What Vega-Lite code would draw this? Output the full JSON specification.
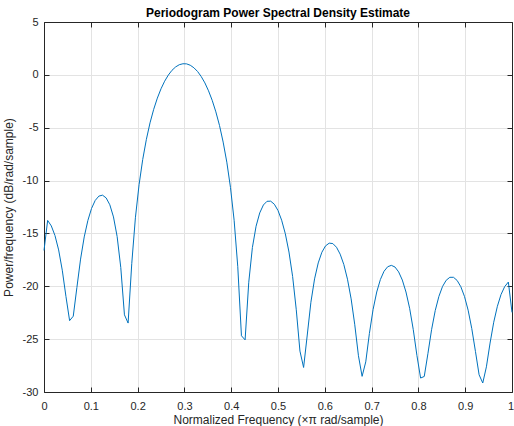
{
  "$schema": "https://vega.github.io/schema/vega-lite/v6.json",
  "width": 468,
  "height": 370,
  "autosize": {"type": "none"},
  "padding": {"left": 44, "top": 22, "right": 2, "bottom": 34},
  "background": "white",
  "title": {
    "text": "Periodogram Power Spectral Density Estimate",
    "font": "Liberation Sans",
    "fontSize": 12,
    "fontWeight": "bold",
    "color": "#000000",
    "anchor": "middle",
    "frame": "group",
    "offset": 4,
    "dy": 8
  },
  "config": {
    "view": {"stroke": null},
    "axis": {
      "domainColor": "#262626",
      "domainWidth": 1,
      "tickColor": "#262626",
      "tickWidth": 1,
      "tickSize": -5,
      "labelColor": "#262626",
      "titleColor": "#262626",
      "labelFont": "Liberation Sans",
      "titleFont": "Liberation Sans",
      "labelFontSize": 11,
      "titleFontSize": 12,
      "titleFontWeight": "normal",
      "gridColor": "#e3e3e3",
      "gridWidth": 1
    }
  },
  "data": {
    "values": [
      {"f": 0.0000000, "p": -16.61}, {"f": 0.0078125, "p": -13.77}, {"f": 0.0156250, "p": -14.29}, {"f": 0.0234375, "p": -15.20},
      {"f": 0.0312500, "p": -16.56}, {"f": 0.0390625, "p": -18.48}, {"f": 0.0468750, "p": -20.96}, {"f": 0.0546875, "p": -23.25},
      {"f": 0.0625000, "p": -22.83}, {"f": 0.0703125, "p": -20.11}, {"f": 0.0781250, "p": -17.43}, {"f": 0.0859375, "p": -15.33},
      {"f": 0.0937500, "p": -13.77}, {"f": 0.1015625, "p": -12.64}, {"f": 0.1093750, "p": -11.88}, {"f": 0.1171875, "p": -11.47},
      {"f": 0.1250000, "p": -11.38}, {"f": 0.1328125, "p": -11.64}, {"f": 0.1406250, "p": -12.29}, {"f": 0.1484375, "p": -13.44},
      {"f": 0.1562500, "p": -15.29}, {"f": 0.1640625, "p": -18.22}, {"f": 0.1718750, "p": -22.70}, {"f": 0.1796875, "p": -23.48},
      {"f": 0.1875000, "p": -17.86}, {"f": 0.1953125, "p": -13.52}, {"f": 0.2031250, "p": -10.39}, {"f": 0.2109375, "p": -8.00},
      {"f": 0.2187500, "p": -6.10}, {"f": 0.2265625, "p": -4.54}, {"f": 0.2343750, "p": -3.26}, {"f": 0.2421875, "p": -2.20},
      {"f": 0.2500000, "p": -1.32}, {"f": 0.2578125, "p": -0.60}, {"f": 0.2656250, "p": -0.02}, {"f": 0.2734375, "p": 0.43},
      {"f": 0.2812500, "p": 0.75}, {"f": 0.2890625, "p": 0.96}, {"f": 0.2968750, "p": 1.05}, {"f": 0.3046875, "p": 1.04},
      {"f": 0.3125000, "p": 0.91}, {"f": 0.3203125, "p": 0.67}, {"f": 0.3281250, "p": 0.32}, {"f": 0.3359375, "p": -0.16},
      {"f": 0.3437500, "p": -0.76}, {"f": 0.3515625, "p": -1.51}, {"f": 0.3593750, "p": -2.41}, {"f": 0.3671875, "p": -3.50},
      {"f": 0.3750000, "p": -4.79}, {"f": 0.3828125, "p": -6.36}, {"f": 0.3906250, "p": -8.26}, {"f": 0.3984375, "p": -10.65},
      {"f": 0.4062500, "p": -13.76}, {"f": 0.4140625, "p": -18.15}, {"f": 0.4218750, "p": -24.68}, {"f": 0.4296875, "p": -25.07},
      {"f": 0.4375000, "p": -19.62}, {"f": 0.4453125, "p": -16.33}, {"f": 0.4531250, "p": -14.32}, {"f": 0.4609375, "p": -13.06},
      {"f": 0.4687500, "p": -12.31}, {"f": 0.4765625, "p": -11.96}, {"f": 0.4843750, "p": -11.95}, {"f": 0.4921875, "p": -12.24},
      {"f": 0.5000000, "p": -12.83}, {"f": 0.5078125, "p": -13.75}, {"f": 0.5156250, "p": -15.03}, {"f": 0.5234375, "p": -16.76},
      {"f": 0.5312500, "p": -19.08}, {"f": 0.5390625, "p": -22.22}, {"f": 0.5468750, "p": -26.13}, {"f": 0.5546875, "p": -27.68},
      {"f": 0.5625000, "p": -24.61}, {"f": 0.5703125, "p": -21.51}, {"f": 0.5781250, "p": -19.30}, {"f": 0.5859375, "p": -17.79},
      {"f": 0.5937500, "p": -16.78}, {"f": 0.6015625, "p": -16.18}, {"f": 0.6093750, "p": -15.92}, {"f": 0.6171875, "p": -15.96},
      {"f": 0.6250000, "p": -16.31}, {"f": 0.6328125, "p": -16.96}, {"f": 0.6406250, "p": -17.94}, {"f": 0.6484375, "p": -19.33},
      {"f": 0.6562500, "p": -21.19}, {"f": 0.6640625, "p": -23.64}, {"f": 0.6718750, "p": -26.57}, {"f": 0.6796875, "p": -28.52},
      {"f": 0.6875000, "p": -27.15}, {"f": 0.6953125, "p": -24.46}, {"f": 0.7031250, "p": -22.20}, {"f": 0.7109375, "p": -20.54},
      {"f": 0.7187500, "p": -19.36}, {"f": 0.7265625, "p": -18.58}, {"f": 0.7343750, "p": -18.15}, {"f": 0.7421875, "p": -18.02},
      {"f": 0.7500000, "p": -18.18}, {"f": 0.7578125, "p": -18.64}, {"f": 0.7656250, "p": -19.41}, {"f": 0.7734375, "p": -20.54},
      {"f": 0.7812500, "p": -22.08}, {"f": 0.7890625, "p": -24.10}, {"f": 0.7968750, "p": -26.56}, {"f": 0.8046875, "p": -28.68},
      {"f": 0.8125000, "p": -28.53}, {"f": 0.8203125, "p": -26.38}, {"f": 0.8281250, "p": -24.11}, {"f": 0.8359375, "p": -22.30},
      {"f": 0.8437500, "p": -20.96}, {"f": 0.8515625, "p": -20.02}, {"f": 0.8593750, "p": -19.43}, {"f": 0.8671875, "p": -19.15},
      {"f": 0.8750000, "p": -19.15}, {"f": 0.8828125, "p": -19.45}, {"f": 0.8906250, "p": -20.04}, {"f": 0.8984375, "p": -20.96},
      {"f": 0.9062500, "p": -22.26}, {"f": 0.9140625, "p": -24.00}, {"f": 0.9218750, "p": -26.16}, {"f": 0.9296875, "p": -28.37},
      {"f": 0.9375000, "p": -29.15}, {"f": 0.9453125, "p": -27.62}, {"f": 0.9531250, "p": -25.37}, {"f": 0.9609375, "p": -23.40},
      {"f": 0.9687500, "p": -21.89}, {"f": 0.9765625, "p": -20.78}, {"f": 0.9843750, "p": -20.03}, {"f": 0.9921875, "p": -19.60},
      {"f": 1.0000000, "p": -22.47}
    ]
  },
  "layer": [
    {
      "mark": {"type": "line", "color": "#0072BD", "strokeWidth": 1},
      "encoding": {
        "x": {
          "field": "f", "type": "quantitative",
          "scale": {"domain": [0, 1], "nice": false, "zero": false},
          "axis": {
            "orient": "bottom",
            "values": [0, 0.1, 0.2, 0.3, 0.4, 0.5, 0.6, 0.7, 0.8, 0.9, 1],
            "format": "~g",
            "labelFlush": false,
            "labelPadding": 13,
            "labelOffset": {"condition": {"test": "datum.value == 1", "value": -1.5}, "value": 0},
            "title": "Normalized Frequency  (×π rad/sample)",
            "titlePadding": 3
          }
        },
        "y": {
          "field": "p", "type": "quantitative",
          "scale": {"domain": [-30, 5], "nice": false, "zero": false},
          "axis": {
            "orient": "left",
            "values": [-30, -25, -20, -15, -10, -5, 0, 5],
            "labelExpr": "replace(datum.label, '−', '-')",
            "labelFlush": false,
            "labelPadding": 11,
            "title": "Power/frequency (dB/rad/sample)",
            "titlePadding": 7
          }
        }
      }
    },
    {
      "mark": {"type": "line", "opacity": 0},
      "encoding": {
        "x": {
          "field": "f", "type": "quantitative",
          "axis": {
            "orient": "top",
            "values": [0, 0.1, 0.2, 0.3, 0.4, 0.5, 0.6, 0.7, 0.8, 0.9, 1],
            "labels": false, "grid": false, "title": null
          }
        },
        "y": {
          "field": "p", "type": "quantitative",
          "axis": {
            "orient": "right",
            "values": [-30, -25, -20, -15, -10, -5, 0, 5],
            "labels": false, "grid": false, "title": null
          }
        }
      }
    }
  ],
  "resolve": {"axis": {"x": "independent", "y": "independent"}}
}
